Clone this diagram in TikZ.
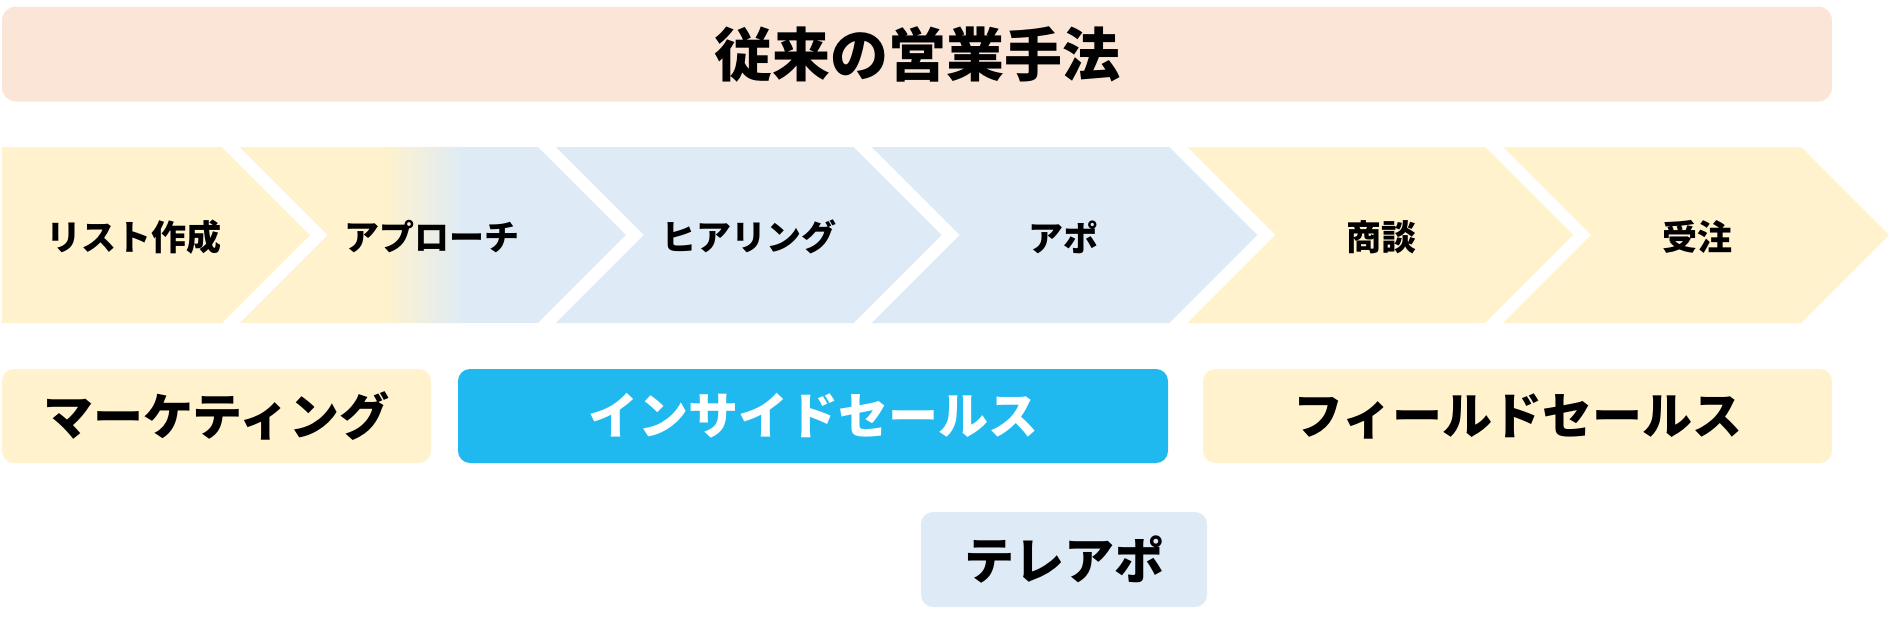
\documentclass[tikz,border=0pt]{standalone}
\usepackage{fontspec}
\setmainfont{Noto Sans CJK JP}
\usetikzlibrary{positioning}
\definecolor{peach}{HTML}{FBE5D6}
\definecolor{cream}{HTML}{FFF2CC}
\definecolor{paleblue}{HTML}{DEEBF7}
\definecolor{cyanbox}{HTML}{20B9EF}

\begin{document}
\begin{tikzpicture}[x=1pt,y=-1pt,
  stage/.style={font=\fontsize{35}{40}\selectfont\bfseries},
  team/.style={rounded corners=12pt,inner sep=0pt,minimum height=94pt,
    font=\fontsize{50}{60}\selectfont\bfseries}]
  \useasboundingbox (0,0) rectangle (1892,630);

  % title bar
  \node[team,fill=peach,rounded corners=14pt,minimum width=1830pt,minimum height=95pt,
    font=\fontsize{58}{66}\selectfont\bfseries] (title) at (917,54) {従来の営業手法};

  % process chevrons
  \fill[cream] (2,147) -- (222,147) -- (310,235) -- (222,323) -- (2,323) -- cycle;
  \foreach \i/\col in {2/paleblue,3/paleblue,4/cream,5/cream}{
    \pgfmathsetmacro\r{222+315.8*\i}
    \pgfmathsetmacro\l{\r-315.8+18}
    \fill[\col] (\l,147) -- (\r,147) -- (\r+88,235) -- (\r,323) -- (\l,323) -- (\l+88,235) -- cycle;
  }
  % second one fades from cream to blue
  \begin{scope}
    \clip (240,147) -- (537.8,147) -- (625.8,235) -- (537.8,323) -- (240,323) -- (328,235) -- cycle;
    \fill[paleblue] (240,147) rectangle (630,323);
    \fill[cream] (240,147) rectangle (385,323);
    \shade[left color=cream,right color=paleblue] (384,147) rectangle (464,323);
  \end{scope}

  \node[stage] (list)     at (134,237)  {リスト作成};
  \node[stage] (approach) at (432,237)  {アプローチ};
  \node[stage] (hearing)  at (749,237)  {ヒアリング};
  \node[stage] (appo)     at (1063,237) {アポ};
  \node[stage] (deal)     at (1381,237) {商談};
  \node[stage] (order)    at (1697,237) {受注};

  % who does what
  \node[team,fill=cream,minimum width=429pt]  (marketing) at (216.5,416) {マーケティング};
  \node[team,fill=cyanbox,text=white,minimum width=710pt] (inside) at (813,416) {インサイドセールス};
  \node[team,fill=cream,minimum width=629pt]  (field) at (1517.5,416) {フィールドセールス};
  \node[team,fill=paleblue,minimum width=286pt,minimum height=95pt] (tele) at (1064,559.5) {テレアポ};
\end{tikzpicture}
\end{document}
